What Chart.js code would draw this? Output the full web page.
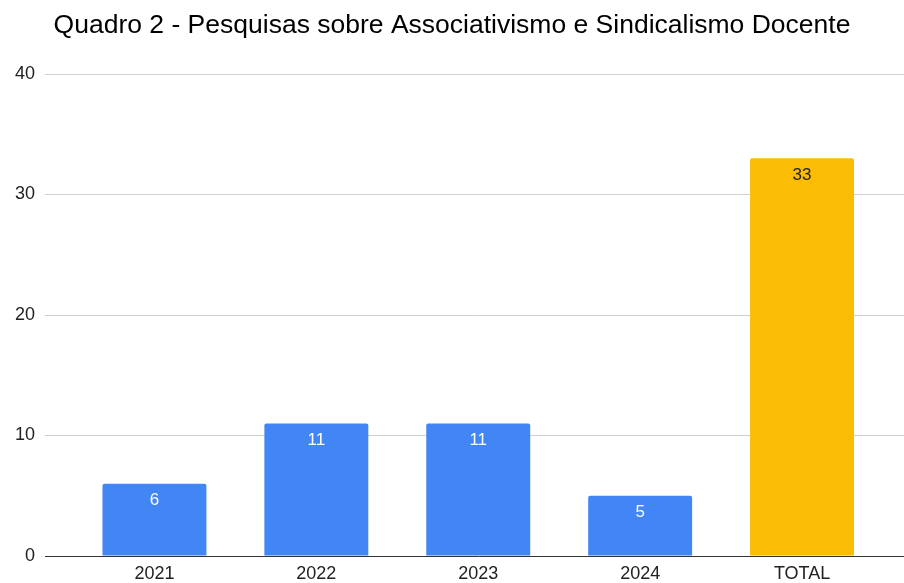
<!DOCTYPE html>
<html><head><meta charset="utf-8">
<script src="https://cdn.jsdelivr.net/npm/chart.js@4/dist/chart.umd.min.js"></script>
<style>html,body{margin:0;padding:0;background:#fff}#wrap{width:904px;height:583px}</style>
</head><body><div id="wrap"><canvas id="c"></canvas></div>
<script>
const categories = ['2021', '2022', '2023', '2024', 'TOTAL'];
const values = [6, 11, 11, 5, 33];
const barColors = ['#4285F4', '#4285F4', '#4285F4', '#4285F4', '#FBBC04'];
const labelColors = ['#ffffff', '#ffffff', '#ffffff', '#ffffff', '#222222'];
const yTicks = [0, 10, 20, 30, 40];
const titleText = 'Quadro 2 - Pesquisas sobre Associativismo e Sindicalismo Docente';

const FONT = "'Liberation Sans', Arial, sans-serif";
const gridCol = ctx => (ctx.tick && ctx.tick.value === 0) ? '#333333' : '#d0d0d0';

const valueLabels = {
  id: 'valueLabels',
  afterDatasetsDraw(chart) {
    const ctx = chart.ctx;
    const meta = chart.getDatasetMeta(0);
    ctx.save();
    ctx.font = '17px ' + FONT;
    ctx.textAlign = 'center';
    ctx.textBaseline = 'middle';
    meta.data.forEach((bar, i) => {
      ctx.fillStyle = labelColors[i];
      ctx.fillText(String(values[i]), bar.x, bar.y + 16.5);
    });
    ctx.restore();
  }
};

new Chart(document.getElementById('c'), {
  type: 'bar',
  data: {
    labels: categories,
    datasets: [{
      data: values,
      backgroundColor: barColors,
      borderRadius: {topLeft: 2, topRight: 2, bottomLeft: 0, bottomRight: 0},
      borderSkipped: 'bottom',
      categoryPercentage: 1,
      barPercentage: 0.642
    }]
  },
  options: {
    responsive: true,
    maintainAspectRatio: false,
    animation: false,
    layout: {padding: {left: 0, right: 0, top: 0, bottom: 0}},
    plugins: {
      legend: {display: false},
      tooltip: {enabled: false},
      title: {
        display: true,
        text: titleText,
        color: '#000000',
        font: {family: FONT, size: 26.5, weight: 'normal'},
        padding: {top: 10, bottom: 32.2}
      }
    },
    scales: {
      x: {
        grid: {display: false, drawTicks: false},
        border: {display: false},
        afterFit: s => { s.height = 27; },
        ticks: {color: '#222222', font: {family: FONT, size: 18}, padding: 7.2}
      },
      y: {
        min: 0, max: 40,
        afterBuildTicks: s => { s.ticks = yTicks.map(v => ({value: v})); },
        afterFit: s => { s.width = 73.5; },
        border: {display: false},
        grid: {color: gridCol, tickColor: gridCol, tickLength: 28.5, lineWidth: 1},
        ticks: {color: '#222222', font: {family: FONT, size: 18}, padding: 10}
      },
      y2: {
        position: 'right',
        min: 0, max: 40,
        afterBuildTicks: s => { s.ticks = yTicks.map(v => ({value: v})); },
        afterFit: s => { s.width = 21; },
        border: {display: false},
        grid: {drawOnChartArea: false, color: gridCol, tickColor: gridCol, tickLength: 21, lineWidth: 1},
        ticks: {callback: () => '', padding: 0}
      }
    }
  },
  plugins: [valueLabels]
});
</script></body></html>
